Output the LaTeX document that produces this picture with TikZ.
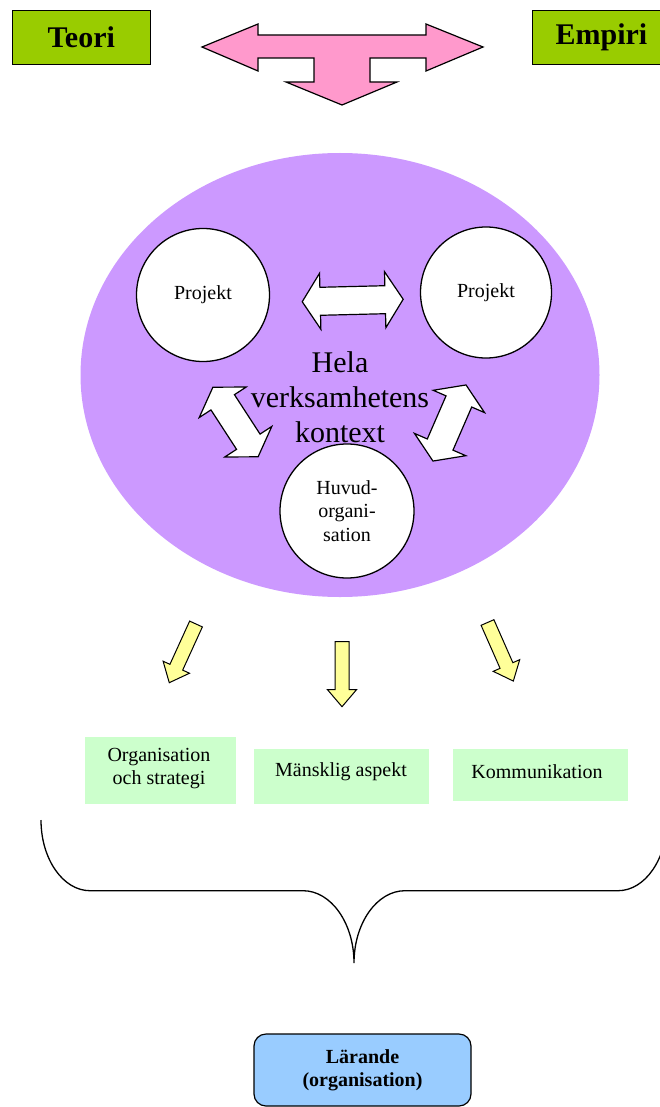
\documentclass[tikz,border=0pt]{standalone}
\usepackage{fontspec}
\setmainfont{Liberation Serif}
\usetikzlibrary{shapes.geometric}

\definecolor{leafgreen}{HTML}{99CC00}
\definecolor{rosepink}{HTML}{FF99CC}
\definecolor{lilac}{HTML}{CC99FF}
\definecolor{mintgreen}{HTML}{CCFFCC}
\definecolor{paleyellow}{HTML}{FFFF99}
\definecolor{skyblue}{HTML}{99CCFF}

\tikzset{
  outline/.style={draw=black, line width=1.2pt, line join=miter},
  titlebox/.style={outline, fill=leafgreen, minimum width=138pt, minimum height=54pt,
    inner sep=0pt, font=\fontsize{30}{34}\selectfont\bfseries},
  ring/.style={circle, draw=black, line width=1.3pt, fill=white, inner sep=0pt,
    align=center, font=\fontsize{20}{23.5}\selectfont},
  softbox/.style={fill=mintgreen, inner sep=0pt},
  boxtext/.style={align=center, inner sep=0pt, font=\fontsize{20}{23}\selectfont},
  whitearrow/.style={outline, fill=white},
  yellowarrow/.style={draw=black, line width=1pt, fill=paleyellow, line join=miter},
  brace/.style={draw=black, line width=1.3pt},
  % double-headed block arrow, #1 = half length
  pics/twoway/.style={code={
    \draw[whitearrow] (-#1,0) -- (-#1+18,28) -- (-#1+18,14) -- (#1-18,14)
      -- (#1-18,28) -- (#1,0) -- (#1-18,-28) -- (#1-18,-14) -- (-#1+18,-14)
      -- (-#1+18,-28) -- cycle;
  }},
  % single block arrow from its tail, #1 = length
  pics/oneway/.style={code={
    \draw[yellowarrow] (0,7) -- (#1-17,7) -- (#1-17,14.5) -- (#1,0)
      -- (#1-17,-14.5) -- (#1-17,-7) -- (0,-7) -- cycle;
  }},
}

\begin{document}
\begin{tikzpicture}[x=1pt, y=-1pt]
\useasboundingbox (0,0) rectangle (660,1107);
\clip (0,0) rectangle (660,1107);

% headline boxes and the three-way arrow
\node[titlebox] (teori) at (81.3,37.5) {Teori};
\node[titlebox] (empiri) at (601.4,37.5) {Empiri};
\draw[outline, fill=rosepink] (202,47) -- (258,24) -- (258,35) -- (426,35) -- (426,24)
  -- (483,47) -- (426,71) -- (426,58) -- (370,58) -- (370,82) -- (397,82)
  -- (342,105) -- (286,82) -- (314,82) -- (314,58) -- (258,58) -- (258,71) -- cycle;

% the whole organisation
\node[ellipse, fill=lilac, minimum width=519pt, minimum height=444pt, inner sep=0pt]
  (whole) at (340,375) {};
\node[ring, minimum size=133pt] (projA) at (203,295) {Projekt};
\node[ring, minimum size=131pt] (projB) at (486,292.5) {Projekt};
\node[ring, minimum size=134pt] (main) at (347,511) {Huvud-\\organi-\\sation};
\node[align=center, inner sep=0pt, font=\fontsize{30}{35}\selectfont] (ctx) at (340,397)
  {Hela\\verksamhetens\\kontext};

\pic[rotate=1.4] at (352.7,300.5) {twoway=50.5};
\pic[rotate=-57] at (235.5,422) {twoway=41.5};
\pic[rotate=66.5] at (449.5,423) {twoway=41.5};

% arrows down to the aspects
\pic[rotate=-114.5] at (196,624) {oneway=64.5};
\pic[rotate=-90] at (342,641.7) {oneway=65};
\pic[rotate=-66.2] at (487.5,622.5) {oneway=64};

% aspects
\node[softbox, minimum width=151.5pt, minimum height=67.3pt] (org) at (160.25,770.35) {};
\node[boxtext] (orgtext) at (159,768.5) {Organisation\\och strategi};
\node[softbox, minimum width=175pt, minimum height=55pt] (human) at (341.5,776.5) {};
\node[boxtext] (humantext) at (341,772) {Mänsklig aspekt};
\node[softbox, minimum width=175pt, minimum height=51.7pt] (comm) at (540.5,774.85) {};
\node[boxtext] (commtext) at (537,772) {Kommunikation};

% brace gathering the aspects
\draw[brace] (41,820) .. controls (41,859) and (63,890.7) .. (90,890.7) -- (303,890.7)
  .. controls (331,890.7) and (354,923) .. (354,963)
  .. controls (354,923) and (377,890.7) .. (405,890.7) -- (618,890.7)
  .. controls (645,890.7) and (667,859) .. (667,820);

% result
\node[draw=black, line width=1.2pt, fill=skyblue, rounded corners=12pt,
  minimum width=217pt, minimum height=72pt, inner sep=0pt, align=center,
  font=\fontsize{20}{23}\selectfont\bfseries] (learn) at (362.5,1070)
  {Lärande\\(organisation)};
\end{tikzpicture}
\end{document}
